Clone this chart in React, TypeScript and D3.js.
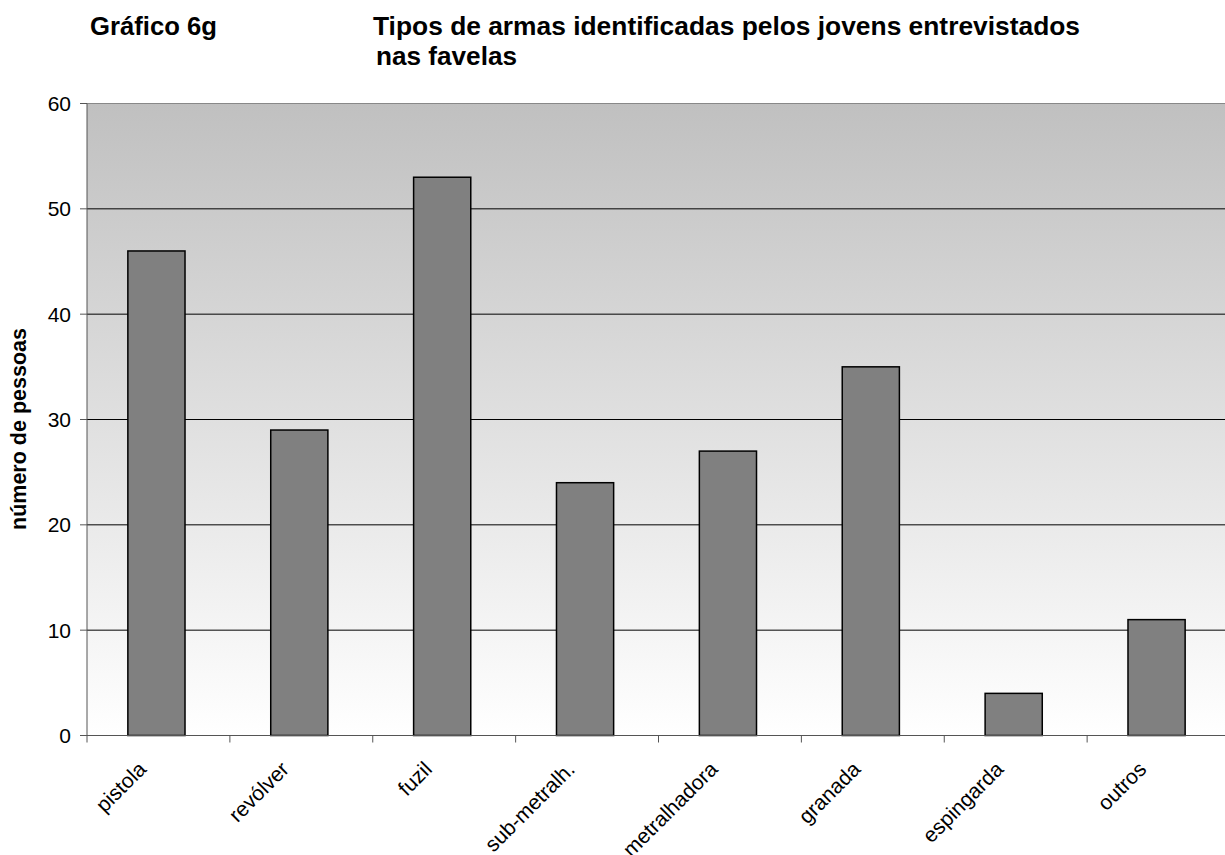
import React from "react";
import * as d3 from "d3";

const categories = ["pistola", "revólver", "fuzil", "sub-metralh.", "metralhadora", "granada", "espingarda", "outros"];
const values = [46, 29, 53, 24, 27, 35, 4, 11];
const yTicks = [0, 10, 20, 30, 40, 50, 60];

const W = 1225, H = 855;
const M = { left: 87, right: 1230, top: 103.5, bottom: 735.5 };

export default function App() {
  const x = d3.scaleBand<string>().domain(categories).range([M.left - 2, M.right - 2]).paddingInner(0.6).paddingOuter(0.3);
  const xb = d3.scaleBand<string>().domain(categories).range([M.left, M.right]);
  const y = d3.scaleLinear().domain([0, 60]).range([M.bottom, M.top]);
  const font = "'Liberation Sans', Arial, sans-serif";
  return (
    <svg width={W} height={H} style={{ position: "absolute", left: 0, top: 0, background: "#fff" }} fontFamily={font}>
      <defs>
        <linearGradient id="bg" x1="0" y1="0" x2="0" y2="1">
          <stop offset="0" stopColor="#c0c0c0" />
          <stop offset="1" stopColor="#ffffff" />
        </linearGradient>
      </defs>
      <text x={90} y={35} fontSize={26} fontWeight="bold" fill="#000" textLength={127} lengthAdjust="spacingAndGlyphs">Gráfico 6g</text>
      <text x={373} y={35} fontSize={26} fontWeight="bold" fill="#000" textLength={707} lengthAdjust="spacingAndGlyphs">Tipos de armas identificadas pelos jovens entrevistados</text>
      <text x={376} y={65} fontSize={26} fontWeight="bold" fill="#000" textLength={141} lengthAdjust="spacingAndGlyphs">nas favelas</text>
      <rect x={M.left} y={M.top} width={M.right - M.left} height={M.bottom - M.top} fill="url(#bg)" />
      {yTicks.map((t) => (
        <g key={t}>
          {t > 0 && <line x1={M.left} x2={M.right} y1={y(t)} y2={y(t)} stroke={t === 60 ? "#888" : "#000"} strokeWidth={1} />}
          <line x1={M.left - 7} x2={M.left} y1={y(t)} y2={y(t)} stroke="#555" />
          <text x={71} y={y(t)} dy="0.36em" textAnchor="end" fontSize={21} fill="#000">{t}</text>
        </g>
      ))}
      {categories.map((c, i) => (
        <rect key={c} x={x(c)} y={y(values[i])} width={x.bandwidth()} height={y(0) - y(values[i])} fill="#808080" stroke="#000" strokeWidth={1.5} />
      ))}
      <line x1={M.left} x2={M.left} y1={M.top} y2={M.bottom} stroke="#555" />
      <line x1={M.left} x2={M.right} y1={M.bottom} y2={M.bottom} stroke="#555" />
      {categories.map((c) => (
        <line key={c} x1={xb(c)} x2={xb(c)} y1={M.bottom} y2={M.bottom + 7} stroke="#555" />
      ))}
      {categories.map((c) => {
        const cx = (xb(c) as number) + xb.bandwidth() / 2;
        return (
          <text key={c} transform={`translate(${cx - 11},${M.bottom + 35}) rotate(-45)`} textAnchor="end" fontSize={21} fill="#000">{c}</text>
        );
      })}
      <text transform={`translate(26,429) rotate(-90)`} textAnchor="middle" fontSize={21.5} fontWeight="bold" fill="#000">número de pessoas</text>
    </svg>
  );
}
